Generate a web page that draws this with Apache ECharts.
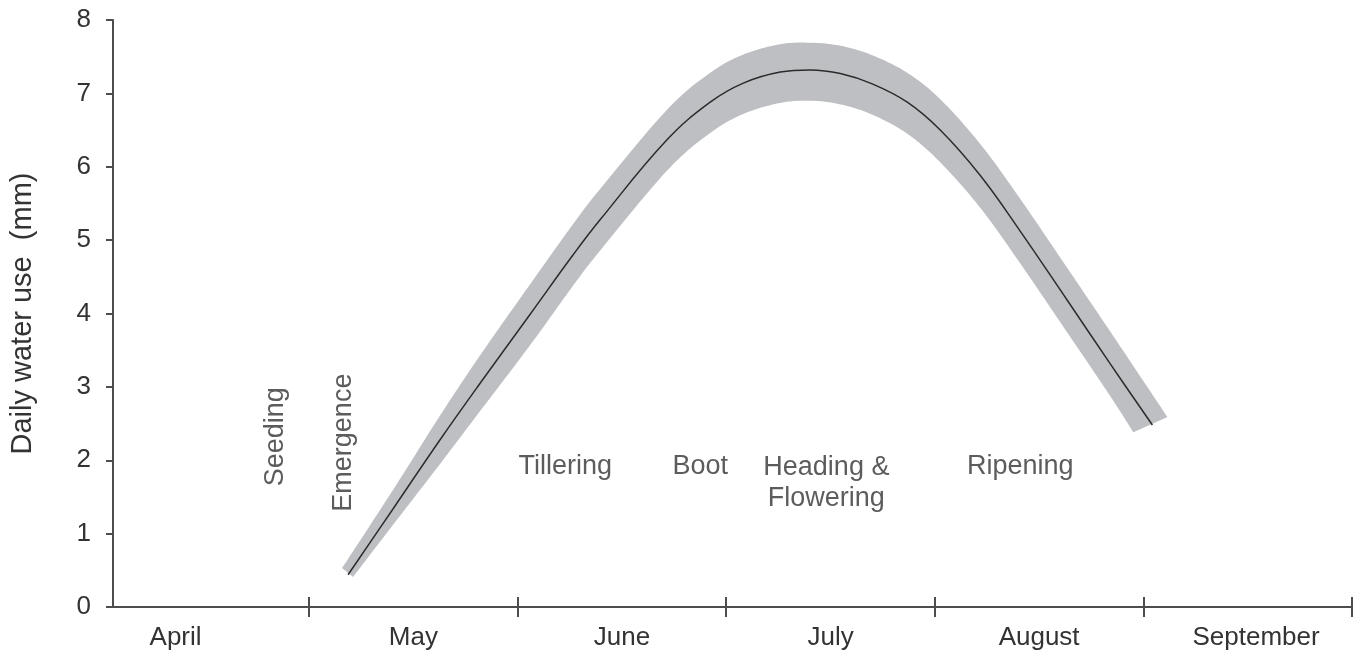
<!DOCTYPE html>
<html>
<head>
<meta charset="utf-8">
<script src="https://cdn.jsdelivr.net/npm/echarts@6/dist/echarts.min.js"></script>
<style>
html,body{margin:0;padding:0;background:#fff;}
#chart{width:1354px;height:656px;}
</style>
</head>
<body>
<div id="chart"></div>
<script>
// X unit: months after 1 May (0 = 1 May, 1 = 1 June, etc.)
const monthNames = ['April', 'May', 'June', 'July', 'August', 'September'];
const monthLabelAt = [-0.64, 0.5, 1.5, 2.5, 3.5, 4.54];
const monthBoundaries = [0, 1, 2, 3, 4, 5];

// mean daily water use (mm)
const centerX = [0.187, 0.408, 0.628, 0.820, 1.060, 1.266, 1.396, 1.717, 1.923, 2.082, 2.259, 2.403, 2.547, 2.700, 2.868, 3.026, 3.218, 3.410, 3.635, 3.842, 4.043];
const centerY = [0.44, 1.36, 2.28, 3.05, 3.99, 4.80, 5.28, 6.37, 6.88, 7.14, 7.29, 7.32, 7.27, 7.13, 6.88, 6.50, 5.88, 5.12, 4.18, 3.31, 2.48];

// upper and lower edge of the range band
const upperX = [0.158, 0.408, 0.628, 0.820, 1.060, 1.266, 1.396, 1.717, 1.923, 2.082, 2.259, 2.403, 2.547, 2.700, 2.868, 3.026, 3.218, 3.410, 3.635, 3.842, 4.115];
const upperY = [0.53, 1.62, 2.61, 3.43, 4.40, 5.22, 5.70, 6.78, 7.28, 7.53, 7.67, 7.69, 7.65, 7.52, 7.28, 6.92, 6.31, 5.56, 4.62, 3.75, 2.59];
const lowerX = [0.211, 0.408, 0.628, 0.820, 1.060, 1.266, 1.396, 1.717, 1.923, 2.082, 2.259, 2.403, 2.547, 2.700, 2.868, 3.026, 3.218, 3.410, 3.635, 3.842, 3.952];
const lowerY = [0.41, 1.14, 1.95, 2.67, 3.57, 4.38, 4.86, 5.95, 6.46, 6.72, 6.87, 6.90, 6.85, 6.71, 6.45, 6.06, 5.44, 4.68, 3.74, 2.87, 2.38];

// growth stage annotations
const verticalStageNames = ['Seeding', 'Emergence'];
const verticalStageX = [-0.163, 0.163];
const verticalStageY = [2.32, 2.24];
const stageNames = ['Tillering', 'Boot', 'Heading &\nFlowering', 'Ripening'];
const stageX = [1.228, 1.875, 2.48, 3.41];
const stageY = [1.92, 1.92, 1.69, 1.92];

const yMin = 0, yMax = 8, yInterval = 1;
const xMin = -0.94, xMax = 5.0;

const FONT = '"Liberation Sans", Arial, Helvetica, sans-serif';
const TXT = '#333333';
const AX = '#4d4d4d';

const chart = echarts.init(document.getElementById('chart'));

const centerData = centerX.map((x, i) => [x, centerY[i]]);
const upperPts = upperX.map((x, i) => [x, upperY[i]]);
const lowerPts = lowerX.map((x, i) => [x, lowerY[i]]);

function nearestLabel(v) {
  let best = 0;
  for (let i = 1; i < monthLabelAt.length; i++) {
    if (Math.abs(monthLabelAt[i] - v) < Math.abs(monthLabelAt[best] - v)) best = i;
  }
  return monthNames[best];
}

// Catmull-Rom densification of an open pixel polyline (drawing only)
function spline(px) {
  const out = [];
  const n = px.length;
  const steps = 16;
  for (let i = 0; i < n - 1; i++) {
    const p0 = px[Math.max(i - 1, 0)], p1 = px[i], p2 = px[i + 1], p3 = px[Math.min(i + 2, n - 1)];
    for (let s = 0; s < steps; s++) {
      const t = s / steps, t2 = t * t, t3 = t2 * t;
      const f = (a, b, c, d) => 0.5 * ((2 * b) + (-a + c) * t + (2 * a - 5 * b + 4 * c - d) * t2 + (-a + 3 * b - 3 * c + d) * t3);
      out.push([f(p0[0], p1[0], p2[0], p3[0]), f(p0[1], p1[1], p2[1], p3[1])]);
    }
  }
  out.push(px[n - 1]);
  return out;
}

chart.setOption({
  animation: false,
  backgroundColor: '#ffffff',
  grid: { left: 113, right: 2, top: 20, bottom: 49, containLabel: false, outerBoundsMode: 'none' },
  xAxis: [
    {
      type: 'value', min: xMin, max: xMax, position: 'bottom',
      axisLine: { show: true, onZero: false, lineStyle: { color: AX, width: 2 } },
      axisTick: { show: true, customValues: monthBoundaries, length: 10, inside: false, lineStyle: { color: AX, width: 2 } },
      axisLabel: { show: true, customValues: monthLabelAt, formatter: v => nearestLabel(v), fontSize: 26, color: TXT, fontFamily: FONT, margin: 18 },
      splitLine: { show: false }
    },
    {
      type: 'value', min: xMin, max: xMax, position: 'top', offset: -587,
      axisLine: { show: false, onZero: false },
      axisTick: { show: true, customValues: monthBoundaries, length: 10, inside: false, lineStyle: { color: AX, width: 2 } },
      axisLabel: { show: false },
      splitLine: { show: false }
    }
  ],
  yAxis: {
    type: 'value', min: yMin, max: yMax, interval: yInterval,
    name: 'Daily water use  (mm)', nameLocation: 'middle', nameGap: 76,
    nameTextStyle: { fontSize: 29, color: TXT, fontFamily: FONT },
    axisLine: { show: true, onZero: false, lineStyle: { color: AX, width: 2 } },
    axisTick: { show: true, length: 7, lineStyle: { color: AX, width: 2 } },
    axisLabel: { fontSize: 26, color: TXT, fontFamily: FONT, margin: 22 },
    splitLine: { show: false }
  },
  series: [
    {
      type: 'custom',
      silent: true,
      clip: false,
      z: 1,
      data: [[0, 0]],
      renderItem: function (params, api) {
        const up = spline(upperPts.map(p => api.coord(p)));
        const lo = spline(lowerPts.map(p => api.coord(p))).reverse();
        return {
          type: 'polygon',
          shape: { points: up.concat(lo) },
          style: { fill: '#bebfc3', stroke: null }
        };
      }
    },
    {
      type: 'line',
      data: centerData,
      smooth: 0.4,
      showSymbol: false,
      silent: true,
      z: 3,
      lineStyle: { color: '#2b2b2b', width: 1.5 }
    },
    {
      type: 'scatter',
      silent: true,
      z: 4,
      symbolSize: 1,
      itemStyle: { color: 'rgba(0,0,0,0)' },
      data: verticalStageX.map((x, i) => [x, verticalStageY[i], verticalStageNames[i]]),
      label: {
        show: true, position: 'inside', rotate: 90,
        formatter: p => p.value[2],
        fontSize: 27, color: TXT, fontFamily: FONT
      }
    },
    {
      type: 'scatter',
      silent: true,
      z: 4,
      symbolSize: 1,
      itemStyle: { color: 'rgba(0,0,0,0)' },
      data: stageX.map((x, i) => [x, stageY[i], stageNames[i]]),
      label: {
        show: true, position: 'inside',
        formatter: p => p.value[2],
        fontSize: 27, lineHeight: 31, color: TXT, fontFamily: FONT
      }
    }
  ]
});
</script>
</body>
</html>
